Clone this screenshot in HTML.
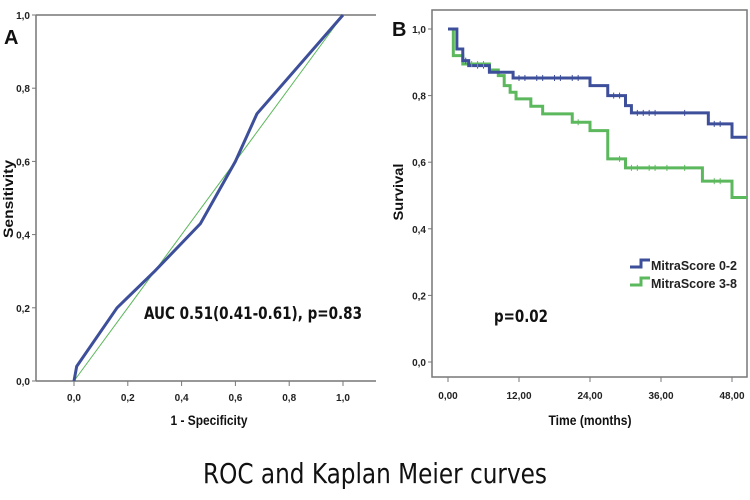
<!DOCTYPE html>
<html><head><meta charset="utf-8"><style>
body{margin:0;background:#fff;width:750px;height:500px;overflow:hidden}
svg{display:block}
.tk{font-family:"Liberation Sans",sans-serif;font-size:10px;font-weight:bold;fill:#222}
.at{font-family:"Liberation Sans",sans-serif;font-size:14px;font-weight:bold;fill:#111}
</style></head><body>
<svg id="c" width="750" height="500">
<text x="375" y="483" text-anchor="middle" font-family="'DejaVu Sans Condensed','Liberation Sans',sans-serif" font-size="28" textLength="344" lengthAdjust="spacingAndGlyphs" fill="#111">ROC and Kaplan Meier curves</text>
<text x="4" y="44" font-family="'Liberation Sans',sans-serif" font-size="20" font-weight="bold" fill="#111">A</text>
<text x="392" y="36" font-family="'Liberation Sans',sans-serif" font-size="20" font-weight="bold" fill="#111">B</text>
<g id="A"></g>
<g id="B"></g>
</svg>
<script>
// ROC data
const rocFpr=[0,0.01,0.16,0.30,0.47,0.60,0.68,1.0];
const rocTpr=[0,0.04,0.20,0.30,0.43,0.60,0.73,1.0];
const rocTicks=["0,0","0,2","0,4","0,6","0,8","1,0"];
// KM data
const kmBlueT=[0,1.5,2.5,3.5,7,11,24,27,30,31,44,48];
const kmBlueS=[1.0,0.94,0.905,0.89,0.87,0.853,0.83,0.80,0.77,0.748,0.715,0.675];
const kmGreenT=[0,0.9,2.5,7,8.5,9.5,10.5,11.5,14,16,21,24,27,30,43,48];
const kmGreenS=[1.0,0.92,0.895,0.877,0.86,0.83,0.81,0.79,0.768,0.745,0.72,0.695,0.61,0.583,0.543,0.494];
const kmXTicks=["0,00","12,00","24,00","36,00","48,00"];
const kmXVals=[0,12,24,36,48];
const kmYTicks=["0,0","0,2","0,4","0,6","0,8","1,0"];
const blueCensor=[3,5,6,12,13,15,16,18,19,21,22,28,29,32,33,34,35,40,45,46];
const greenCensor=[4,5,6,22,29,31,32,34,35,37,40,45,46];

const NS="http://www.w3.org/2000/svg";
function mk(p,t,a){const e=document.createElementNS(NS,t);for(const k in a)e.setAttribute(k,a[k]);p.appendChild(e);return e;}
const A=document.getElementById('A'),B=document.getElementById('B');
const ax=v=>74+v*269, ay=v=>381-v*366;
let e=mk(A,'line',{x1:36,y1:15,x2:376,y2:15,stroke:'#777','stroke-width':1.5});

e=mk(A,'line',{x1:36,y1:15,x2:36,y2:381,stroke:'#777','stroke-width':1.5});

e=mk(A,'line',{x1:36,y1:381,x2:376,y2:381,stroke:'#777','stroke-width':1.5});

rocTicks.forEach((l,i)=>{const v=i*0.2;
 mk(A,'line',{x1:32,y1:ay(v),x2:36,y2:ay(v),stroke:'#777'});
 e=mk(A,'text',{x:30,y:ay(v)+4,'text-anchor':'end',class:'tk'});e.textContent=l;
 
 mk(A,'line',{x1:ax(v),y1:381,x2:ax(v),y2:386,stroke:'#777'});
 e=mk(A,'text',{x:ax(v),y:401,'text-anchor':'middle',class:'tk'});e.textContent=l;
 
});
e=mk(A,'line',{x1:ax(0),y1:ay(0),x2:ax(1),y2:ay(1),stroke:'#5cb85c','stroke-width':1});

e=mk(A,'polyline',{points:rocFpr.map((x,i)=>ax(x)+','+ay(rocTpr[i])).join(' '),fill:'none',stroke:'#3d4f9a','stroke-width':3});

e=mk(A,'text',{x:144,y:319,'font-family':"'DejaVu Sans Condensed','Liberation Sans',sans-serif",'font-size':17,'font-weight':'bold',textLength:218,lengthAdjust:'spacingAndGlyphs',fill:'#111'});e.textContent='AUC 0.51(0.41-0.61), p=0.83';

e=mk(A,'text',{x:13,y:199,transform:'rotate(-90 13 199)','text-anchor':'middle',class:'at',textLength:78,lengthAdjust:'spacingAndGlyphs'});e.textContent='Sensitivity';

e=mk(A,'text',{x:209,y:425,'text-anchor':'middle',class:'at',textLength:77,lengthAdjust:'spacingAndGlyphs'});e.textContent='1 - Specificity';


const bx=t=>448+t*71/12, by=v=>362-v*333;
e=mk(B,'rect',{x:432,y:10,width:315,height:367,fill:'none',stroke:'#777','stroke-width':1.5});

kmYTicks.forEach((l,i)=>{const v=i*0.2;
 mk(B,'line',{x1:428,y1:by(v),x2:432,y2:by(v),stroke:'#777'});
 e=mk(B,'text',{x:426,y:by(v)+4,'text-anchor':'end',class:'tk'});e.textContent=l;
 
});
kmXVals.forEach((v,i)=>{
 mk(B,'line',{x1:bx(v),y1:377,x2:bx(v),y2:382,stroke:'#777'});
 e=mk(B,'text',{x:bx(v),y:399,'text-anchor':'middle',class:'tk'});e.textContent=kmXTicks[i];
 
});
function step(T,S,end){let p=bx(T[0])+','+by(S[0]);for(let i=1;i<T.length;i++){p+=' '+bx(T[i])+','+by(S[i-1])+' '+bx(T[i])+','+by(S[i]);}p+=' '+end+','+by(S[S.length-1]);return p;}
function sAt(T,S,t){let s=S[0];for(let i=0;i<T.length;i++)if(T[i]<=t)s=S[i];return s;}
e=mk(B,'polyline',{points:step(kmGreenT,kmGreenS,747),fill:'none',stroke:'#5cb85c','stroke-width':3});

e=mk(B,'polyline',{points:step(kmBlueT,kmBlueS,747),fill:'none',stroke:'#3d4f9a','stroke-width':3});

blueCensor.forEach(t=>{const y=by(sAt(kmBlueT,kmBlueS,t));e=mk(B,'line',{x1:bx(t),y1:y-3,x2:bx(t),y2:y+3,stroke:'#3d4f9a'});
 });
greenCensor.forEach(t=>{const y=by(sAt(kmGreenT,kmGreenS,t));e=mk(B,'line',{x1:bx(t),y1:y-3,x2:bx(t),y2:y+3,stroke:'#5cb85c'});
 });
[['#3d4f9a','MitraScore 0-2',265],['#5cb85c','MitraScore 3-8',283]].forEach(([c,l,y],i)=>{
 e=mk(B,'polyline',{points:`630,${y+2} 641,${y+2} 641,${y-5} 650,${y-5}`,fill:'none',stroke:c,'stroke-width':3});
 
 e=mk(B,'text',{x:651,y:y+5,'font-family':"'Liberation Sans',sans-serif",'font-size':13,'font-weight':'bold',fill:'#222',textLength:86,lengthAdjust:'spacingAndGlyphs'});e.textContent=l;
 
});
e=mk(B,'text',{x:494,y:322,'font-family':"'DejaVu Sans Condensed','Liberation Sans',sans-serif",'font-size':17,'font-weight':'bold',fill:'#111',textLength:54,lengthAdjust:'spacingAndGlyphs'});e.textContent='p=0.02';

e=mk(B,'text',{x:403,y:192,transform:'rotate(-90 403 192)','text-anchor':'middle',class:'at',textLength:57,lengthAdjust:'spacingAndGlyphs'});e.textContent='Survival';

e=mk(B,'text',{x:590,y:425,'text-anchor':'middle',class:'at',textLength:83,lengthAdjust:'spacingAndGlyphs'});e.textContent='Time (months)';

</script>
</body></html>
